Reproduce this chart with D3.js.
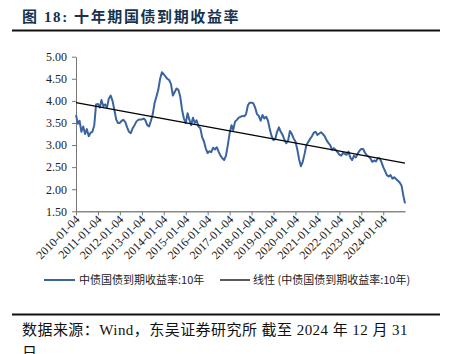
<!DOCTYPE html>
<html><head><meta charset="utf-8">
<script src="https://cdn.jsdelivr.net/npm/d3@7"></script>
<style>
html,body{margin:0;padding:0;background:#fff;}
svg{display:block;}
</style>
</head><body>
<script>
// ---- data (monthly readings, Jan..Dec each year) ----
const startDate = "2010-01-04";
const endDate = "2024-12-31";
const yields2010 = [3.68,3.48,3.55,3.30,3.42,3.25,3.36,3.20,3.28,3.30,3.45,3.92];
const yields2011 = [3.93,3.85,4.02,3.88,3.92,3.85,4.05,4.12,4.00,3.80,3.58,3.50];
const yields2012 = [3.50,3.55,3.57,3.52,3.40,3.30,3.27,3.38,3.45,3.53,3.57,3.58];
const yields2013 = [3.58,3.60,3.56,3.45,3.42,3.55,3.70,3.95,4.10,4.25,4.50,4.65];
const yields2014 = [4.60,4.55,4.50,4.47,4.38,4.12,4.20,4.28,4.25,4.10,3.80,3.60];
const yields2015 = [3.50,3.72,3.58,3.45,3.62,3.50,3.56,3.42,3.38,3.18,3.08,2.92];
const yields2016 = [2.82,2.86,2.84,2.94,2.90,2.95,2.85,2.76,2.70,2.66,2.76,3.00];
const yields2017 = [3.27,3.45,3.34,3.53,3.57,3.62,3.64,3.66,3.65,3.70,3.90,3.96];
const yields2018 = [3.96,3.94,3.85,3.70,3.66,3.55,3.68,3.60,3.64,3.55,3.35,3.20];
const yields2019 = [3.11,3.15,3.30,3.40,3.30,3.23,3.12,3.04,3.10,3.32,3.25,3.15];
const yields2020 = [3.08,2.90,2.68,2.52,2.62,2.80,3.00,3.07,3.14,3.20,3.28,3.30];
const yields2021 = [3.23,3.26,3.29,3.25,3.20,3.11,3.05,3.00,2.89,2.93,2.89,2.84];
const yields2022 = [2.78,2.76,2.82,2.80,2.78,2.85,2.72,2.66,2.76,2.72,2.80,2.87];
const yields2023 = [2.91,2.91,2.83,2.77,2.74,2.70,2.62,2.65,2.63,2.70,2.70,2.62];
const yields2024 = [2.50,2.41,2.32,2.29,2.32,2.24,2.27,2.23,2.19,2.15,2.08,1.85];
const lastValue = 1.68; // 2024-12-31
const trendValues = [3.96, 2.59]; // linear trend at start and end
const yTicks = [1.5,2.0,2.5,3.0,3.5,4.0,4.5,5.0];
const xTickLabels = ["2010-01-04","2011-01-04","2012-01-04","2013-01-04","2014-01-04",
  "2015-01-04","2016-01-04","2017-01-04","2018-01-04","2019-01-04","2020-01-04",
  "2021-01-04","2022-01-04","2023-01-04","2024-01-04"];
const seriesName = "中债国债到期收益率:10年";
const trendName = "线性 (中债国债到期收益率:10年)";

// ---- build series ----
const parse = d3.timeParse("%Y-%m-%d");
const allYears = [yields2010,yields2011,yields2012,yields2013,yields2014,yields2015,yields2016,
  yields2017,yields2018,yields2019,yields2020,yields2021,yields2022,yields2023,yields2024];
const series = [];
allYears.forEach((arr, yi) => {
  arr.forEach((v, m) => {
    series.push({date: new Date(2010 + yi, m, 4), value: v});
  });
});
series.push({date: parse(endDate), value: lastValue});
const trend = [{date: parse(startDate), value: trendValues[0]}, {date: parse(endDate), value: trendValues[1]}];

// ---- svg ----
const W = 452, H = 354;
const svg = d3.select("body").append("svg").attr("width", W).attr("height", H);
const serif = "'Liberation Serif','Times New Roman','Noto Sans CJK SC',serif";
const cjk = "'Noto Sans CJK SC','Liberation Serif',serif";

// title
svg.append("text").attr("x", 22).attr("y", 22)
  .attr("fill", "#17324f").attr("font-weight", "bold").attr("font-size", 15)
  .attr("letter-spacing", 1.6)
  .attr("font-family", "'Liberation Serif','Noto Sans CJK SC',serif")
  .text("图 18:  十年期国债到期收益率");
svg.append("line").attr("x1", 12).attr("x2", 440).attr("y1", 30.5).attr("y2", 30.5)
  .attr("stroke", "#111").attr("stroke-width", 2);

const x = d3.scaleTime().domain([parse(startDate), parse(endDate)]).range([76, 405]);
const y = d3.scaleLinear().domain([1.5, 5.0]).range([211.3, 56.7]);

// y axis
const yAxis = svg.append("g").attr("transform", "translate(76,0)")
  .call(d3.axisLeft(y).tickValues(yTicks).tickFormat(d3.format(".2f")).tickSize(4).tickSizeOuter(0));
yAxis.select(".domain").attr("stroke", "#777");
yAxis.selectAll(".tick line").attr("stroke", "#777");
yAxis.selectAll("text").attr("font-family", serif).attr("font-size", 12).attr("fill", "#222").attr("x", -9);

// x axis
const xTickDates = xTickLabels.map(parse);
const xAxis = svg.append("g").attr("transform", "translate(0,211.3)")
  .call(d3.axisBottom(x).tickValues(xTickDates).tickFormat(d3.timeFormat("%Y-%m-%d")).tickSize(4).tickSizeOuter(0));
xAxis.select(".domain").attr("stroke", "#888").attr("stroke-width", 1.5);
xAxis.selectAll(".tick line").attr("stroke", "#777");
xAxis.selectAll("text").attr("font-family", serif).attr("font-size", 12).attr("fill", "#222")
  .attr("text-anchor", "end").attr("dy", 0).attr("y", 0)
  .attr("transform", "translate(4,9) rotate(-45)");

// series line
const line = d3.line().x(d => x(d.date)).y(d => y(d.value));
svg.append("path").datum(series).attr("d", line).attr("fill", "none")
  .attr("stroke", "#3a64a0").attr("stroke-width", 2).attr("stroke-linejoin", "round");
svg.append("path").datum(trend).attr("d", line).attr("fill", "none")
  .attr("stroke", "#000").attr("stroke-width", 1.3);

// legend
const lg = svg.append("g").attr("font-family", cjk).attr("font-size", 11).attr("fill", "#222");
lg.append("line").attr("x1", 44).attr("x2", 75).attr("y1", 280).attr("y2", 280).attr("stroke", "#3a64a0").attr("stroke-width", 2);
lg.append("text").attr("x", 79).attr("y", 284).text(seriesName);
lg.append("line").attr("x1", 220).attr("x2", 250).attr("y1", 280).attr("y2", 280).attr("stroke", "#000").attr("stroke-width", 1.3);
lg.append("text").attr("x", 253).attr("y", 284).text(trendName);

// bottom rule and source
svg.append("line").attr("x1", 12).attr("x2", 440).attr("y1", 314.5).attr("y2", 314.5)
  .attr("stroke", "#111").attr("stroke-width", 2);
const src = svg.append("g").attr("font-family", "'Liberation Serif','Noto Sans CJK SC',serif").attr("font-size", 15).attr("fill", "#111");
src.append("text").attr("x", 22).attr("y", 335).attr("letter-spacing", 0.45).text("数据来源：Wind，东吴证券研究所 截至 2024 年 12 月 31");
src.append("text").attr("x", 22).attr("y", 358).text("日");
</script>
</body></html>
